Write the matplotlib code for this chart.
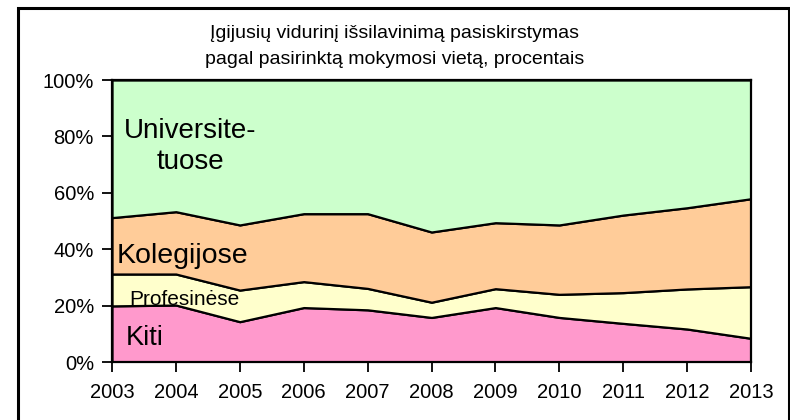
import matplotlib.pyplot as plt
from matplotlib.patches import Rectangle

# duomenys (procentais)
metai = [2003, 2004, 2005, 2006, 2007, 2008, 2009, 2010, 2011, 2012, 2013]
kiti = [19.9, 20.2, 14.3, 19.3, 18.5, 15.8, 19.3, 15.8, 13.7, 11.7, 8.4]
profesinese = [11.3, 11.0, 11.2, 9.2, 7.6, 5.4, 6.7, 8.2, 10.9, 14.2, 18.3]
kolegijose = [20.0, 22.1, 23.1, 24.1, 26.5, 24.9, 23.4, 24.6, 27.5, 28.8, 31.2]
universitetuose = [48.8, 46.7, 51.4, 47.4, 47.4, 53.9, 50.6, 51.4, 47.9, 45.3, 42.1]

spalvos = ["#FF99CC", "#FFFFCC", "#FFCC99", "#CCFFCC"]

plt.rcParams['font.family'] = ['Liberation Sans', 'DejaVu Sans']

fig = plt.figure(figsize=(7.9, 4.2), dpi=100)
ax = fig.add_axes([112/790, 1 - 362/420, (751 - 112)/790, (362 - 80)/420])

ax.stackplot(metai, kiti, profesinese, kolegijose, universitetuose,
             colors=spalvos, edgecolor="black", linewidth=1.6)

ax.set_xlim(2003, 2013)
ax.set_ylim(0, 100)
ax.set_xticks(metai)
ax.set_yticks([0, 20, 40, 60, 80, 100])
ax.set_yticklabels([f"{v}%" for v in [0, 20, 40, 60, 80, 100]])
ax.tick_params(axis="both", direction="out", length=7, width=1.3, labelsize=14.5)
ax.tick_params(axis="y", pad=6)
ax.tick_params(axis="x", pad=8)
for s in ax.spines.values():
    s.set_linewidth(1.6)

# uzrasai ant sriciu
ax.text(2004.22, 76.3, "Universite-\ntuose", fontsize=20, ha="center", va="center",
        linespacing=1.25)
ax.text(2003.08, 37.5, "Kolegijose", fontsize=20.5, ha="left", va="center")
ax.text(2003.27, 22, "Profesinėse", fontsize=15, ha="left", va="center")
ax.text(2003.22, 8.5, "Kiti", fontsize=19.5, ha="left", va="center")

fig.text(0.5, 1 - 33/420, "Įgijusių vidurinį išsilavinimą pasiskirstymas",
         ha="center", va="center", fontsize=14)
fig.text(0.5, 1 - 60/420, "pagal pasirinktą mokymosi vietą, procentais",
         ha="center", va="center", fontsize=14)

# remelis aplink visa paveiksla
fig.patches.append(Rectangle((18/790, -0.05), (789 - 18)/790, 1 - 7.5/420 + 0.05,
                             transform=fig.transFigure, fill=False,
                             edgecolor="black", linewidth=2.2))

fig.savefig("out.png", dpi=100)
